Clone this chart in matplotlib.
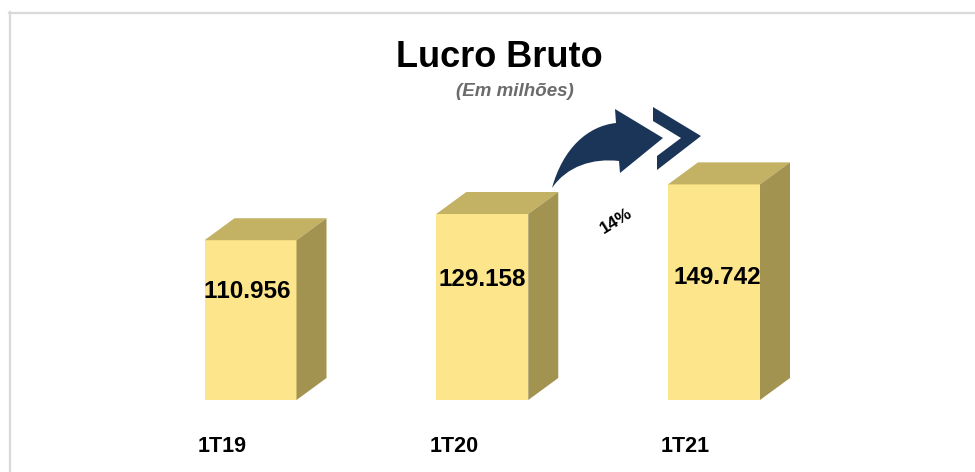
import matplotlib
matplotlib.use("Agg")
import matplotlib.pyplot as plt
from matplotlib.patches import Polygon, PathPatch
from matplotlib.path import Path
from matplotlib.lines import Line2D

categories = ["1T19", "1T20", "1T21"]
values = [110.956, 129.158, 149.742]
value_labels = ["110.956", "129.158", "149.742"]
growth_label = "14%"
title = "Lucro Bruto"
subtitle = "(Em milhões)"

plt.rcParams['font.family'] = ['Liberation Sans', 'DejaVu Sans']
plt.rcParams['text.kerning_factor'] = 30

W, H = 975, 472
fig = plt.figure(figsize=(W / 100, H / 100), dpi=100)

def fx(px):
    return px / W

def fy(py):
    return 1 - py / H

# axes: y=0 at pixel 400, 1.44 px per unit
ax = fig.add_axes([0, fy(400), 1, (400 - 40) / H])
ax.set_ylim(0, 250)
spacing = 231.75
ax.set_xlim(-250.5 / spacing, (W - 250.5) / spacing)
ax.axis("off")

front = "#FCE58A"
top_c = "#C3B164"
side_c = "#A29351"
bw = 92 / spacing
dx = 30 / spacing
dy = 22 / 1.44

xs = list(range(len(categories)))
ax.bar(xs, values, width=bw, color=front, edgecolor="none", zorder=2)
for x, v in zip(xs, values):
    x0, x1 = x - bw / 2, x + bw / 2
    ax.add_patch(Polygon([(x0, v), (x1, v), (x1 + dx, v + dy), (x0 + dx, v + dy)],
                         closed=True, facecolor=top_c, edgecolor="none", zorder=2))
    ax.add_patch(Polygon([(x1, 0), (x1, v), (x1 + dx, v + dy), (x1 + dx, dy)],
                         closed=True, facecolor=side_c, edgecolor="none", zorder=2))

label_y = [(400 - 292) / 1.44, (400 - 279) / 1.44, (400 - 277) / 1.44]
label_dx = [-3 / spacing, 0, 3 / spacing]
for x, lab, ly, ldx in zip(xs, value_labels, label_y, label_dx):
    ax.text(x + ldx, ly, lab, ha="center", va="center", fontsize=17.5,
            fontweight="bold", color="black", zorder=3)

for x, c in zip(xs, categories):
    ax.text(x - 53 / spacing, (400 - 446) / 1.44, c, ha="left", va="center",
            fontsize=15.5, fontweight="bold", color="black", clip_on=False)

# title
fig.text(fx(499), fy(67), title, ha="center", va="baseline", fontsize=26,
         fontweight="bold", color="black")
fig.text(fx(515), fy(96), subtitle, ha="center", va="baseline", fontsize=13.5,
         fontweight="bold", style="italic", color="#6b6b6b")

# border
fig.add_artist(Line2D([fx(9), fx(975)], [fy(12.5), fy(12.5)], color="#d9d9d9", lw=1.6))
fig.add_artist(Line2D([fx(9.5), fx(9.5)], [fy(12), fy(472)], color="#d9d9d9", lw=1.6))

navy = "#1b3558"
# curved arrow
pts = [(552, 188),
       (563, 148), (588, 126), (616, 123),
       (615, 109), (663, 138), (620, 173),
       (619, 161),
       (593, 158), (567, 166), (552, 188)]
codes = [Path.MOVETO,
         Path.CURVE4, Path.CURVE4, Path.CURVE4,
         Path.LINETO, Path.LINETO, Path.LINETO,
         Path.LINETO,
         Path.CURVE4, Path.CURVE4, Path.CURVE4]
path = Path([(fx(a), fy(b)) for a, b in pts], codes)
fig.add_artist(PathPatch(path, facecolor=navy, edgecolor="none", transform=fig.transFigure))
chev = [(653, 107), (701, 136), (657, 170), (657, 156), (681, 138), (653, 121)]
fig.add_artist(Polygon([(fx(a), fy(b)) for a, b in chev], closed=True, facecolor=navy,
                       edgecolor="none", transform=fig.transFigure))

fig.text(fx(616), fy(221), growth_label, ha="center", va="center", fontsize=12.5,
         fontweight="bold", color="black", rotation=32)

fig.savefig("out.png", dpi=100, facecolor="white")
